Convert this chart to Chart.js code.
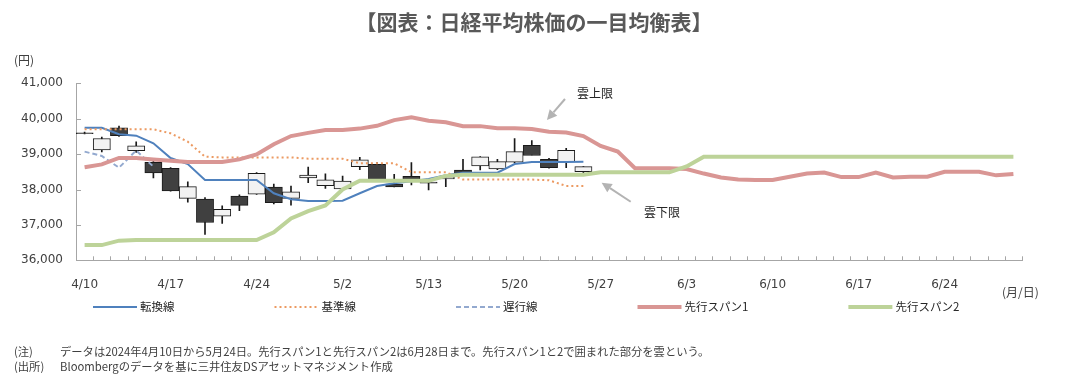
<!DOCTYPE html>
<html><head><meta charset="utf-8">
<script src="https://cdn.jsdelivr.net/npm/chart.js@4.4.1/dist/chart.umd.min.js"></script>
<style>
html,body{margin:0;padding:0;background:#fff;width:1068px;height:381px;overflow:hidden;font-family:"Noto Sans CJK JP",sans-serif;}
#wrap{position:relative;width:1068px;height:381px;}
#wrap canvas{position:absolute;left:0;top:0;}
.t{position:absolute;white-space:nowrap;color:#404040;line-height:1;}
#title{left:0;width:1068px;text-align:center;top:11px;font-size:21px;font-weight:bold;color:#595959;}
#yunit{left:14px;top:54px;font-size:12px;}
#xunit{left:1002px;top:286px;font-size:12px;}
.note{font-size:11.3px;}
</style></head>
<body>
<div id="wrap">
<canvas id="c" width="1068" height="381"></canvas>
<div class="t" id="title">【図表：日経平均株価の一目均衡表】</div>
<div class="t" id="yunit">(円)</div>
<div class="t" id="xunit">(月/日)</div>
<div class="t note" style="left:14px;top:346px;">(注)</div>
<div class="t note" style="left:60px;top:346px;">データは2024年4月10日から5月24日。先行スパン1と先行スパン2は6月28日まで。先行スパン1と2で囲まれた部分を雲という。</div>
<div class="t note" style="left:14px;top:361px;">(出所)</div>
<div class="t note" style="left:60px;top:361px;">Bloombergのデータを基に三井住友DSアセットマネジメント作成</div>
</div>
<script>
const dates = ['4/10','4/11','4/12','4/15','4/16','4/17','4/18','4/19','4/22','4/23',
  '4/24','4/25','4/26','4/30','5/1','5/2','5/7','5/8','5/9','5/10',
  '5/13','5/14','5/15','5/16','5/17','5/20','5/21','5/22','5/23','5/24',
  '5/27','5/28','5/29','5/30','5/31','6/3','6/4','6/5','6/6','6/7',
  '6/10','6/11','6/12','6/13','6/14','6/17','6/18','6/19','6/20','6/21',
  '6/24','6/25','6/26','6/27','6/28'];
const openP  = [39600,39120,39740,39100,38770,38600,37750,37730,37250,37815,37865,38070,37750,38330,38110,38015,38645,38710,38150,38370,38210,38300,38550,38665,38580,38770,39250,38850,38785,38505];
const highP  = [39620,39480,39790,39350,38800,38620,38220,37770,37540,37850,38475,38150,38100,38630,38440,38380,38910,38760,38430,38760,38230,38380,38850,38930,38850,39440,39380,38880,39160,38650];
const lowP   = [39570,39060,39500,39050,38330,37950,37640,36730,37045,37400,37860,37590,37560,38190,38030,38000,38560,38280,38070,38130,37990,38080,38450,38550,38560,38760,38980,38600,38620,38430];
const closeP = [39580,39440,39520,39233,38471,37962,38080,37068,37439,37552,38460,37628,37935,38406,38274,38236,38835,38280,38074,38268,38179,38356,38440,38920,38787,39070,38960,38617,39103,38646];
const tenkan = [39746,39746,39560,39520,39305,38890,38720,38268,38268,38268,38268,37893,37723,37675,37675,37684,37893,38099,38175,38230,38300,38400,38475,38475,38475,38720,38777,38777,38777,38785];
const kijun  = [39700,39700,39700,39700,39700,39587,39350,38927,38907,38907,38907,38907,38907,38870,38870,38870,38740,38740,38740,38490,38490,38490,38280,38280,38280,38280,38280,38260,38100,38100];
const chikou = [39070,38947,38617,39103,38646];
const span1  = [38630,38710,38890,38890,38850,38810,38780,38780,38780,38850,
  38990,39280,39510,39600,39680,39680,39720,39800,39960,40040,
  39940,39900,39790,39790,39730,39730,39710,39630,39610,39510,
  39230,39070,38600,38600,38600,38580,38450,38340,38280,38270,
  38270,38360,38450,38480,38350,38350,38475,38340,38360,38360,
  38500,38500,38500,38400,38440];
const span2  = [36430,36430,36555,36573,36573,36573,36573,36573,36573,36573,
  36573,36790,37180,37390,37550,38000,38245,38245,38245,38245,
  38245,38385,38420,38420,38420,38420,38420,38420,38420,38420,
  38485,38485,38485,38485,38485,38650,38927,38927,38927,38927,
  38927,38927,38927,38927,38927,38927,38927,38927,38927,38927,
  38927,38927,38927,38927,38927];
const yMin = 36000, yMax = 41000, yStep = 1000;
const labelEvery = 5;
const seriesNames = ['転換線','基準線','遅行線','先行スパン1','先行スパン2'];
const cloudNotes = [
  {text:'雲上限', at:[29.67,40726], tail:[27.93,40556], tip:[26.88,39963]},
  {text:'雲下限', at:[33.57,37364], tail:[31.75,37655], tip:[30.06,38192]}
];

const pad = arr => dates.map((d,i) => (i < arr.length ? arr[i] : null));
const up = closeP.map((c,i) => c >= openP[i]);

const overlay = {
  id:'overlay',
  afterDraw(chart){
    const {ctx, chartArea:a, scales:{x, y}} = chart;
    ctx.save();
    ctx.strokeStyle = '#a6a6a6'; ctx.lineWidth = 1;
    ctx.beginPath();
    for (let i = 0; i <= dates.length; i++){
      const px = Math.round(x.getPixelForValue(i - 0.5)) + 0.5;
      ctx.moveTo(px, a.bottom); ctx.lineTo(px, a.bottom - 4);
    }
    y.ticks.forEach(t => {
      const py = Math.round(y.getPixelForValue(t.value)) + 0.5;
      ctx.moveTo(a.left, py); ctx.lineTo(a.left + 5, py);
    });
    ctx.stroke();
    ctx.font = '12px "Noto Sans CJK JP"';
    ctx.textAlign = 'center'; ctx.textBaseline = 'middle';
    cloudNotes.forEach(n => {
      ctx.fillStyle = '#262626';
      ctx.fillText(n.text, x.getPixelForValue(n.at[0]), y.getPixelForValue(n.at[1]));
      const x1 = x.getPixelForValue(n.tail[0]), y1 = y.getPixelForValue(n.tail[1]);
      const x2 = x.getPixelForValue(n.tip[0]), y2 = y.getPixelForValue(n.tip[1]);
      const ang = Math.atan2(y2 - y1, x2 - x1);
      const hl = 10, hw = 5;
      const bx = x2 - hl*Math.cos(ang), by = y2 - hl*Math.sin(ang);
      ctx.strokeStyle = '#b3b3b3'; ctx.lineWidth = 2;
      ctx.beginPath(); ctx.moveTo(x1, y1); ctx.lineTo(bx, by); ctx.stroke();
      ctx.fillStyle = '#b3b3b3';
      ctx.beginPath();
      ctx.moveTo(x2, y2);
      ctx.lineTo(bx + hw*Math.sin(ang), by - hw*Math.cos(ang));
      ctx.lineTo(bx - hw*Math.sin(ang), by + hw*Math.cos(ang));
      ctx.closePath(); ctx.fill();
    });
    const legendY = 307, symW = 44, gap = 100;
    let lx = 93;
    ctx.font = '11.5px "Noto Sans CJK JP"';
    ctx.textAlign = 'left';
    chart.data.datasets.filter(d => d.type === 'line').forEach(d => {
      ctx.strokeStyle = d.borderColor; ctx.lineWidth = d.borderWidth;
      ctx.setLineDash(d.borderDash || []);
      ctx.beginPath(); ctx.moveTo(lx, legendY); ctx.lineTo(lx + symW, legendY); ctx.stroke();
      ctx.setLineDash([]);
      ctx.fillStyle = '#262626';
      ctx.fillText(d.label, lx + symW + 3, legendY);
      lx += symW + 3 + ctx.measureText(d.label).width + gap;
    });
    ctx.restore();
  }
};

const lineDs = (label, data, color, width, dash, order) => ({
  type:'line', label, data, borderColor:color, backgroundColor:color, borderWidth:width,
  borderDash:dash, pointRadius:0, tension:0, fill:false, spanGaps:false, order
});

new Chart(document.getElementById('c'), {
  type:'bar',
  data:{
    labels: dates,
    datasets:[
      lineDs(seriesNames[0], pad(tenkan), '#4f81bd', 2, [], 5),
      lineDs(seriesNames[1], pad(kijun), '#ec9a62', 2, [2,3], 4),
      lineDs(seriesNames[2], pad(chikou), '#93a9cf', 2, [5,3], 3),
      lineDs(seriesNames[3], span1, '#d99694', 4, [], 2),
      lineDs(seriesNames[4], span2, '#bdd399', 4, [], 1),
      {type:'bar', label:'body', data: pad(openP.map((o,i)=>[o, closeP[i]])),
       backgroundColor: up.map(u => u ? '#f2f2f2' : '#404040'),
       borderColor:'#1a1a1a', borderWidth:1, borderSkipped:false,
       barPercentage:1, categoryPercentage:1, grouped:false, order:9},
      {type:'bar', label:'wick', data: pad(lowP.map((l,i)=>[l, highP[i]])),
       backgroundColor:'#1a1a1a', barThickness:1, grouped:false, order:10}
    ]
  },
  options:{
    responsive:false, animation:false, devicePixelRatio:1,
    layout:{padding:{left:0, right:46, top:83.3, bottom:90.7}},
    plugins:{legend:{display:false}, tooltip:{enabled:false}, title:{display:false}},
    scales:{
      x:{
        offset:true,
        grid:{display:false, drawTicks:false},
        border:{display:true, color:'#a6a6a6', width:1},
        ticks:{autoSkip:false, maxRotation:0, minRotation:0, padding:17, color:'#404040',
          font:{family:'DejaVu Sans', size:12},
          callback:(v,i) => (i % labelEvery === 0 ? dates[i] : '')},
        afterFit:s => { s.height = 30; }
      },
      y:{
        min:yMin, max:yMax,
        grid:{display:false, drawTicks:false},
        border:{display:true, color:'#a6a6a6', width:1},
        ticks:{stepSize:yStep, padding:13, color:'#404040', font:{family:'DejaVu Sans', size:12},
          callback:v => v.toLocaleString('en-US')},
        afterFit:s => { s.width = 76; }
      }
    }
  },
  plugins:[overlay]
});
</script>
</body></html>
